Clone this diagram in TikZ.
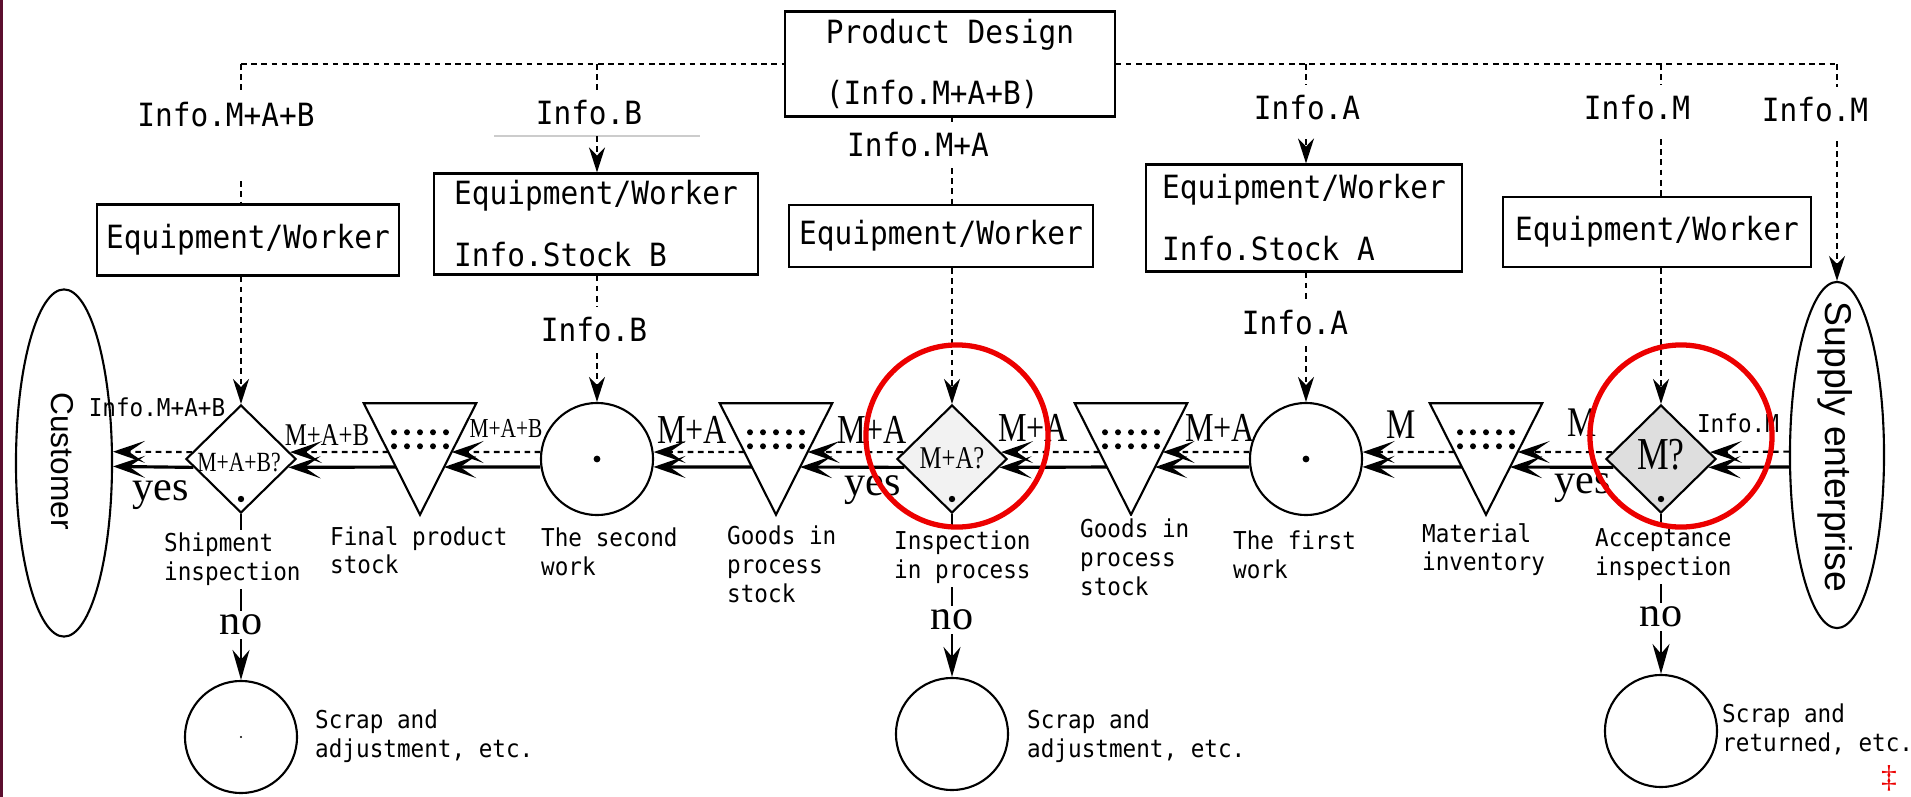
\documentclass[tikz,border=0pt]{standalone}
\usepackage{fontspec}
\setmainfont{Liberation Serif}
\newfontfamily\gothfont[FakeStretch=0.92]{DejaVu Sans Mono}
\newfontfamily\minchofont[FakeStretch=0.78]{Liberation Serif}
\newfontfamily\ovalfont{Liberation Sans}
\usepackage{tikz}
\usetikzlibrary{arrows.meta, calc, shapes.geometric}
\definecolor{circlered}{RGB}{236,0,0}
\definecolor{edgemaroon}{RGB}{92,14,46}
\definecolor{checkgray}{RGB}{222,222,222}
\newcommand{\gothbig}{\gothfont\fontsize{9.1}{17.6}\selectfont}
\newcommand{\gothsmall}{\gothfont\fontsize{7}{8.2}\selectfont}
\newcommand{\mincho}[1]{\minchofont\fontsize{#1}{#1}\selectfont}

\begin{document}
\begin{tikzpicture}[x=0.01cm, y=-0.01cm, >={Stealth[length=0.25cm, width=0.16cm]},
  box/.style={draw, line width=0.6pt, inner sep=0pt, font=\gothbig},
  infotxt/.style={inner sep=0.1cm, font=\gothbig},
  info/.style={line width=0.6pt, dash pattern=on 1.6pt off 1.3pt},
  flow/.style={line width=0.9pt},
  flowtip/.style={-{Stealth[length=0.32cm, width=0.22cm, inset=0.16cm]}},
  check/.style={diamond, draw, line width=0.6pt, minimum width=1.1cm, minimum height=1.08cm, inner sep=0pt},
  work/.style={circle, draw, line width=0.6pt, minimum size=1.12cm, inner sep=0pt},
  stock/.style={rectangle, minimum width=1.11cm, minimum height=1.1cm, inner sep=0pt},
  oval/.style={ellipse, draw, line width=0.6pt, inner sep=0pt},
  note/.style={anchor=north west, align=left, inner sep=1pt, fill=white, font=\gothsmall},
  qty/.style={inner sep=0pt, font=\mincho{11.7}},
  answer/.style={inner sep=1pt, font=\fontsize{12}{12}\selectfont},
  hilite/.style={circle, draw=circlered, line width=1.5pt, minimum size=1.82cm, inner sep=0pt}]

\path[use as bounding box, fill=white] (0,0) rectangle (1911,797);
\fill[edgemaroon] (0,0) rectangle (3,797);

% design and info sources
\node[box, minimum width=3.29cm, minimum height=1.05cm, align=left] (PD) at (950,64) {Product Design\\(Info.M+A+B)};
\node[infotxt] (L1) at (226,115) {Info.M+A+B};
\node[infotxt] (L2) at (589,113) {Info.B};
\node[infotxt] (L3) at (918,145) {Info.M+A};
\node[infotxt] (L4) at (1307,108) {Info.A};
\node[infotxt] (L5) at (1637,108) {Info.M};
\node[infotxt] (L6) at (1815,110) {Info.M};
\node[infotxt] (L7) at (594,330) {Info.B};
\node[infotxt] (L8) at (1295,323) {Info.A};

\node[box, minimum width=3.01cm, minimum height=0.71cm] (E1) at (248,240) {Equipment/Worker};
\node[box, minimum width=3.23cm, minimum height=1.01cm, align=left] (E2) at (596,224) {Equipment/Worker\\Info.Stock B};
\node[box, minimum width=3.04cm, minimum height=0.62cm] (E3) at (941,236) {Equipment/Worker};
\node[box, minimum width=3.15cm, minimum height=1.07cm, align=left] (E4) at (1304,218) {Equipment/Worker\\Info.Stock A};
\node[box, minimum width=3.07cm, minimum height=0.70cm] (E5) at (1657,232) {Equipment/Worker};

% customer and supplier
\node[oval, minimum width=0.96cm, minimum height=3.47cm] (CU) at (64,463) {};
\node[rotate=-90, font=\ovalfont\fontsize{9}{9}\selectfont] (CUtxt) at (62,461) {Customer};
\node[oval, minimum width=0.94cm, minimum height=3.46cm] (SE) at (1837,455) {};
\node[rotate=-90, font=\ovalfont\fontsize{10.6}{11}\selectfont] (SEtxt) at (1835,447) {Supply enterprise};

% process line
\node[check] (D1) at (241,459) {};
\node[stock] (T1) at (420,459) {};
\node[work] (C2) at (597,459) {};
\node[stock] (T2) at (776,459) {};
\node[check, fill=checkgray!40] (D2) at (952,459) {};
\node[stock] (T3) at (1131,459) {};
\node[work] (C1) at (1306,459) {};
\node[stock] (T4) at (1486,459) {};
\node[check, fill=checkgray] (D3) at (1661,459) {};

\foreach \n in {T1,T2,T3,T4} {
  \draw[line width=0.6pt] (\n.north west) -- (\n.north east) -- (\n.south) -- cycle;
  \foreach \k in {-2,...,2}
    \fill ($(\n.north)+(\k*13,29)$) circle (3) ($(\n.north)+(\k*13,43)$) circle (3);
  \coordinate (\n-eu) at ($(\n.north east)!0.437!(\n.south)$);
  \coordinate (\n-ed) at ($(\n.north east)!0.572!(\n.south)$);
  \coordinate (\n-wu) at ($(\n.north west)!0.437!(\n.south)$);
  \coordinate (\n-wd) at ($(\n.north west)!0.572!(\n.south)$);
}
\foreach \n in {C1,C2} {
  \fill (\n) circle (3.4);
  \coordinate (\n-eu) at (\n.7); \coordinate (\n-ed) at (\n.352);
  \coordinate (\n-wu) at (\n.173); \coordinate (\n-wd) at (\n.188);
}
\foreach \n in {D1,D2,D3} {
  \fill ($(\n)+(0,40)$) circle (3.2);
  \coordinate (\n-eu) at (\n.8); \coordinate (\n-ed) at (\n.350);
  \coordinate (\n-wu) at (\n.172); \coordinate (\n-wd) at (\n.190);
}
\coordinate (CU-eu) at (CU.13); \coordinate (CU-ed) at (CU.356);
\coordinate (SE-wu) at (SE.176); \coordinate (SE-wd) at (SE.194);

\foreach \a/\b in {D1/CU, T1/D1, C2/T1, T2/C2, D2/T2, T3/D2, C1/T3, T4/C1, D3/T4, SE/D3} {
  \draw[info, flowtip] (\a-wu) -- (\b-eu);
  \draw[flow, flowtip] (\a-wd) -- (\b-ed);
}

\node[qty, font=\mincho{9}] (f1) at (327,435) {M+A+B};
\node[qty, font=\mincho{7.8}] (f2) at (506,428) {M+A+B};
\node[qty] (f3) at (692,430) {M+A};
\node[qty] (f4) at (872,430) {M+A};
\node[qty] (f5) at (1033,428) {M+A};
\node[qty] (f6) at (1220,428) {M+A};
\node[qty, font=\mincho{12}] (f7) at (1401,425) {M};
\node[qty, font=\mincho{12}] (f8) at (1582,423) {M};
\node[inner sep=0pt, font=\gothsmall] (f0) at (157,407) {Info.M+A+B};
\node[inner sep=0pt, font=\gothsmall] (f9) at (1738,423) {Info.M};

\node[qty, font=\mincho{7.9}] (q1) at (239,462) {M+A+B?};
\node[qty, font=\mincho{9}] (q2) at (952,458) {M+A?};
\node[qty, font=\mincho{13}] (q3) at (1661,455) {M?};
\node[answer] (y1) at (161,495) {yes};
\node[answer] (y2) at (873,490) {yes};
\node[answer] (y3) at (1583,488) {yes};

% info flow
\coordinate (b1) at (D1 |- PD.west);
\coordinate (b2) at (C2 |- PD.west);
\coordinate (b4) at (C1 |- PD.east);
\coordinate (b5) at (D3 |- PD.east);
\coordinate (b6) at (SE |- PD.east);
\draw[info] (b1) -- (PD.west);
\draw[info] (PD.east) -- (b6);

\draw[info] (b1) -- (b1 |- L1.north);
\draw[info, shorten <=0.43cm] (b1 |- L1.south) -- (b1 |- E1.north);
\draw[info, ->] (E1.south -| D1) -- (D1.north);

\draw[info] (b2) -- (b2 |- L2.north);
\draw[gray!40, line width=0.4pt] (494,136) -- (700,136);
\draw[info, ->] (b2 |- L2.south) -- (b2 |- E2.north);
\draw[info] (E2.south -| C2) -- (C2 |- L7.north);
\draw[info, ->] (C2 |- L7.south) -- (C2.north);

\draw[info] (D2 |- PD.south) -- (D2 |- L3.north);
\draw[info] (D2 |- L3.south) -- (D2 |- E3.north);
\draw[info, ->] (E3.south -| D2) -- (D2.north);

\draw[info] (b4) -- (b4 |- L4.north);
\draw[info, ->, shorten <=0.08cm] (b4 |- L4.south) -- (b4 |- E4.north);
\draw[info] (E4.south -| C1) -- (C1 |- L8.north);
\draw[info, ->] (C1 |- L8.south) -- (C1.north);

\draw[info] (b5) -- (b5 |- L5.north);
\draw[info, shorten <=0.08cm] (b5 |- L5.south) -- (b5 |- E5.north);
\draw[info, ->] (E5.south -| D3) -- (D3.north);

\draw[info] (b6) -- (b6 |- L6.north);
\draw[info, ->, shorten <=0.08cm] (b6 |- L6.south) -- (SE.north);

% rejects
\node[work] (S1) at (241,737) {};
\fill (S1) circle (1.2);
\node[work] (S2) at (952,734) {};
\node[work] (S3) at (1661,731) {};
\foreach \d/\s in {D1/S1, D2/S2, D3/S3}
  \draw[line width=0.6pt, ->, >={Stealth[length=0.3cm, width=0.17cm]}] (\d.south) -- (\s.north);

\node[note] (n1) at (160,529) {Shipment\\inspection};
\node[note] (n2) at (326,522) {Final product\\stock};
\node[note] (n3) at (537,524) {The second\\work};
\node[note] (n4) at (723,522) {Goods in\\process\\stock};
\node[note] (n5) at (890,527) {Inspection\\in process};
\node[note] (n6) at (1076,515) {Goods in\\process\\stock};
\node[note] (n7) at (1229,527) {The first\\work};
\node[note] (n8) at (1418,519) {Material\\inventory};
\node[note] (n9) at (1591,524) {Acceptance\\inspection};
\node[note] (s1) at (311,706) {Scrap and\\adjustment, etc.};
\node[note] (s2) at (1023,706) {Scrap and\\adjustment, etc.};
\node[note] (s3) at (1718,700) {Scrap and\\returned, etc.};
\node[answer, fill=white] (no1) at (241,625) {no};
\node[answer, fill=white] (no2) at (952,620) {no};
\node[answer, fill=white] (no3) at (1661,617) {no};

% highlights
\node[hilite] (R1) at (957,436) {};
\node[hilite] (R2) at (1681,436) {};
\node[text=circlered, inner sep=0pt, font=\fontsize{9}{9}\selectfont] (mk) at (1889,778) {\ddag};

\end{tikzpicture}
\end{document}
